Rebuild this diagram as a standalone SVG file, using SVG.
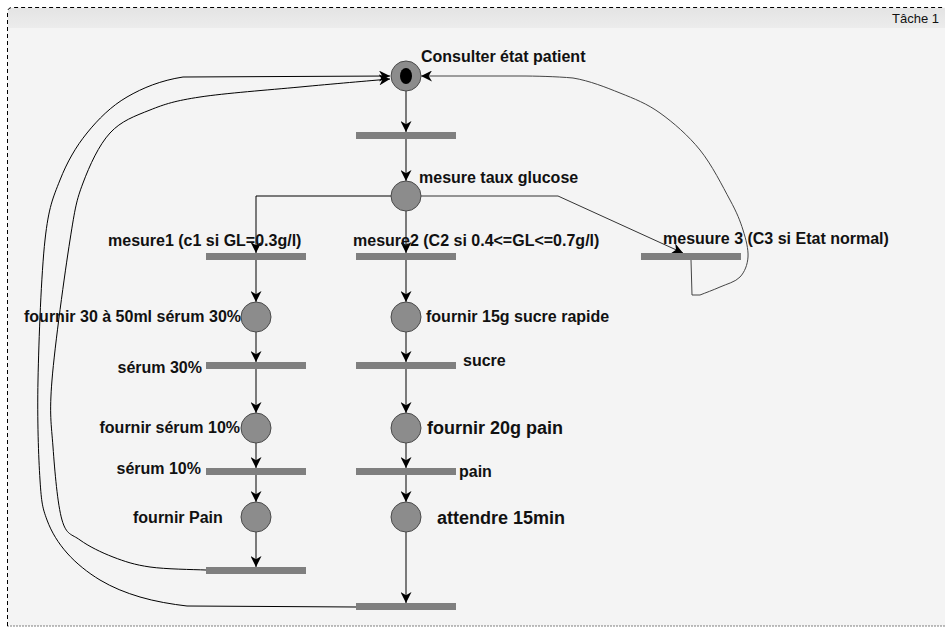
<svg xmlns="http://www.w3.org/2000/svg" width="945" height="628" viewBox="0 0 945 628">
<defs>
<marker id="ah" viewBox="0 0 10 10" refX="10" refY="5" markerWidth="11" markerHeight="11" markerUnits="userSpaceOnUse" orient="auto">
<path d="M0,0 L10,5 L0,10 L3,5 Z" fill="#000"/>
</marker>
<linearGradient id="hdr" x1="0" y1="0" x2="0" y2="1">
<stop offset="0" stop-color="#e4e4e4"/>
<stop offset="1" stop-color="#ececec"/>
</linearGradient>
</defs>
<style>
.bar{fill:#7f7f7f}
.place{fill:#8c8c8c;stroke:#4a4a4a;stroke-width:1}
.lbl{font-family:"Liberation Sans",Arial,sans-serif;font-weight:bold;font-size:16px;fill:#111}
.big{font-size:18px}
.end{text-anchor:end}
.edge{fill:none;stroke:#000;stroke-width:1}
.arr{marker-end:url(#ah)}
</style>
<rect x="0" y="0" width="945" height="628" fill="#ffffff"/>
<g id="frame">
<rect x="7.5" y="7.5" width="945" height="618.5" rx="5" fill="#f4f4f4"/>
<rect x="8" y="8" width="940" height="20" fill="url(#hdr)"/>
<path d="M7.5,626 L7.5,12.5 Q7.5,7.5 12.5,7.5 L950,7.5" fill="none" stroke="#000" stroke-dasharray="4 3"/>
<line x1="7.5" y1="626" x2="945" y2="626" stroke="#000" stroke-dasharray="1 2"/>
<text x="892" y="23" style="font-family:'Liberation Sans',Arial,sans-serif;font-size:13px;fill:#111">Tâche 1</text>
</g>
<g id="connectors">
<line class="edge arr" x1="406" y1="91" x2="406" y2="132"/>
<line class="edge arr" x1="406" y1="139" x2="406" y2="181"/>
<polyline class="edge arr" points="391,196 256,196 256,253"/>
<line class="edge arr" x1="406" y1="211" x2="406" y2="253"/>
<polyline class="edge arr" points="421,196 558,196 683,253" style="stroke:#333"/>
<line class="edge arr" x1="256" y1="260" x2="256" y2="302"/>
<line class="edge arr" x1="256" y1="332" x2="256" y2="362"/>
<line class="edge arr" x1="256" y1="369" x2="256" y2="413"/>
<line class="edge arr" x1="256" y1="443" x2="256" y2="468"/>
<line class="edge arr" x1="256" y1="475" x2="256" y2="502"/>
<line class="edge arr" x1="256" y1="532" x2="256" y2="567"/>
<line class="edge arr" x1="406" y1="260" x2="406" y2="302"/>
<line class="edge arr" x1="406" y1="332" x2="406" y2="362"/>
<line class="edge arr" x1="406" y1="369" x2="406" y2="413"/>
<line class="edge arr" x1="406" y1="443" x2="406" y2="468"/>
<line class="edge arr" x1="406" y1="475" x2="406" y2="502"/>
<line class="edge arr" x1="406" y1="532" x2="406" y2="603"/>
<path class="edge arr" d="M356,607 L187,606 C172,604.3 154.5,601.3 140,597 C125.5,592.7 112.2,587.3 100,580 C87.8,572.7 75.8,563 67,553 C58.2,543 51.5,532.2 47,520 C42.5,507.8 41.5,503.3 40,480 C38.5,456.7 37.2,420 38,380 C38.8,340 41.3,273.3 45,240 C48.7,206.7 53,197.8 60,180 C67,162.2 75.8,146.8 87,133 C98.2,119.2 111,106.3 127,97 C143,87.7 160.8,80.5 183,77 L390,76"/>
<path class="edge arr" d="M206,570 C192.7,569.5 165.5,569.2 150,567 C134.5,564.8 124.7,561.5 113,557 C101.3,552.5 88.5,546.2 80,540 C71.5,533.8 66.5,535.5 62,520 C57.5,504.5 54.7,470.3 53,447 C51.3,423.7 49.2,414.5 52,380 C54.8,345.5 64.8,272.8 70,240 C75.2,207.2 76.3,200.8 83,183 C89.7,165.2 98.8,145.2 110,133 C121.2,120.8 135,116 150,110 C165,104 175,100.8 200,97 C225,93.2 268.3,90 300,87 C331.7,84 370,80.7 390,79"/>
<path class="edge arr" style="stroke:#444" d="M691,260 L692,295 L700,295 C705,293 713.3,290 720,287 C726.7,284 735.3,282 740,277 C744.7,272 747.5,264.8 748,257 C748.5,249.2 746,239.5 743,230 C740,220.5 737.2,213.3 730,200 C722.8,186.7 711.7,164.5 700,150 C688.3,135.5 673.3,122.5 660,113 C646.7,103.5 634.5,98.8 620,93 C605.5,87.2 589.7,80.8 573,78 C556,76.5 535.5,76 520,76 L421,76"/>
</g>
<g id="start">
<circle class="place" cx="406" cy="76" r="15"/>
<ellipse cx="406" cy="76" rx="6" ry="8" fill="#000"/>
<text class="lbl" x="421" y="62">Consulter état patient</text>
</g>
<g id="t0"><rect class="bar" x="356" y="132" width="100" height="7"/></g>
<g id="p-glucose">
<circle class="place" cx="406" cy="196" r="15"/>
<text class="lbl" x="419" y="183">mesure taux glucose</text>
</g>
<g id="t-mesure1">
<rect class="bar" x="206" y="253" width="100" height="7"/>
<text class="lbl" x="108" y="246">mesure1 (c1 si GL=0.3g/l)</text>
</g>
<g id="t-mesure2">
<rect class="bar" x="356" y="253" width="100" height="7"/>
<text class="lbl" x="353" y="246">mesure2 (C2 si 0.4&lt;=GL&lt;=0.7g/l)</text>
</g>
<g id="t-mesure3">
<rect class="bar" x="641" y="253" width="100" height="7"/>
<text class="lbl" x="663" y="244">mesuure 3 (C3 si Etat normal)</text>
</g>
<g id="p-serum30">
<circle class="place" cx="256" cy="317" r="15"/>
<text class="lbl end" x="241" y="322">fournir 30 à 50ml sérum 30%</text>
</g>
<g id="p-sucre">
<circle class="place" cx="406" cy="317" r="15"/>
<text class="lbl" x="426" y="322">fournir 15g sucre rapide</text>
</g>
<g id="t-serum30">
<rect class="bar" x="206" y="362" width="100" height="7"/>
<text class="lbl end" x="202" y="373">sérum 30%</text>
</g>
<g id="t-sucre">
<rect class="bar" x="356" y="362" width="100" height="7"/>
<text class="lbl" x="463" y="366">sucre</text>
</g>
<g id="p-serum10">
<circle class="place" cx="256" cy="428" r="15"/>
<text class="lbl end" x="240" y="433">fournir sérum 10%</text>
</g>
<g id="p-pain20">
<circle class="place" cx="406" cy="428" r="15"/>
<text class="lbl big" x="427" y="434">fournir 20g pain</text>
</g>
<g id="t-serum10">
<rect class="bar" x="206" y="468" width="100" height="7"/>
<text class="lbl end" x="201" y="474">sérum 10%</text>
</g>
<g id="t-pain">
<rect class="bar" x="356" y="468" width="100" height="7"/>
<text class="lbl" x="459" y="477">pain</text>
</g>
<g id="p-fournirpain">
<circle class="place" cx="256" cy="517" r="15"/>
<text class="lbl" x="133" y="523">fournir Pain</text>
</g>
<g id="p-attendre">
<circle class="place" cx="406" cy="517" r="15"/>
<text class="lbl big" x="437" y="524">attendre 15min</text>
</g>
<g id="t-end1"><rect class="bar" x="206" y="567" width="100" height="7"/></g>
<g id="t-end2"><rect class="bar" x="356" y="603" width="100" height="7"/></g>
</svg>
